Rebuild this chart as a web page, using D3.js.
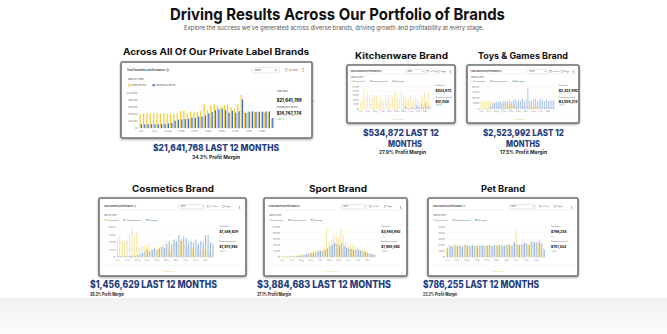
<!DOCTYPE html>
<html><head><meta charset="utf-8">
<script src="https://cdn.jsdelivr.net/npm/d3@7"></script>
<style>html,body{margin:0;padding:0;background:#fff;overflow:hidden}svg{display:block;font-family:Inter,"Open Sans",sans-serif}</style>
</head><body><script>
// ---------- DATA ----------
const weekTickLabels = ["3 Jul","31 Jul","28 Aug","25 Sep","23 Oct","20 Nov","18 Dec","15 Jan","12 Feb","11 Mar"];

const allCurrent = [410000,420000,425000,425000,420000,415000,420000,415000,410000,405000,410000,420000,490000,510000,420000,470000,460000,470000,490000,700000,520000,660000,690000,640000,610000,660000,680000,590000,560000,700000,950000,480000,480000,470000,460000,470000,470000,450000,460000,280000];
const allComparison = [110000,110000,110000,110000,105000,110000,120000,120000,140000,150000,210000,240000,250000,260000,270000,300000,290000,330000,330000,360000,420000,460000,520000,540000,560000,520000,440000,500000,440000,480000,820000,430000,470000,480000,460000,470000,470000,480000,480000,290000];
const allTicks = [0,200000,400000,600000,800000,1000000];

const kitchenCurrent = [7500,11200,22500,12500,20000,13700,10000,17500,12500,15000,7500,13700,11200,8700,15000,12500,16200,7500,12500,18700,17500,10000,11200,20000,13700,15000,8700,11200,15000,7500,10000,12500,11200,8700,15000,13700,18700,10000,20000,7500];
const kitchenComparison = [0,0,0,0,0,0,0,0,0,0,0,0,0,0,0,0,0,0,0,0,0,0,0,500,1000,3500,800,600,1500,2500,1200,4000,3000,1800,6000,2500,7500,3000,4000,1500];
const kitchenTicks = [0,5000,10000,15000,20000,25000];

const toysCurrent = [78000,80000,74000,76000,72000,70000,74000,60000,52000,48000,50000,46000,44000,48000,42000,40000,44000,38000,36000,40000,34000,30000,32000,28000,30000,26000,24000,26000,22000,20000,24000,20000,18000,22000,20000,18000,16000,20000,18000,15000];
const toysComparison = [5000,6000,8000,6000,10000,30000,50000,60000,65000,70000,72000,60000,78000,70000,75000,80000,68000,82000,90000,72000,85000,78000,95000,70000,82000,190000,80000,75000,88000,92000,70000,85000,95000,78000,72000,88000,70000,80000,76000,82000];
const toysTicks = [0,50000,100000,150000,200000];

const cosmeticsCurrent = [66000,72000,58000,52000,60000,80000,98000,70000,85000,35000,40000,42000,38000,45000,28000,30000,25000,35000,40000,45000,55000,35000,20000,60000,50000,45000,55000,55000,40000,35000,25000,30000,30000,35000,20000,25000,30000,20000,20000,15000];
const cosmeticsComparison = [5000,5000,4000,5000,4000,5000,5000,6000,8000,10000,15000,20000,25000,20000,25000,30000,25000,30000,35000,30000,45000,55000,45000,60000,55000,75000,60000,70000,65000,50000,55000,50000,60000,45000,55000,50000,75000,75000,50000,45000];
const cosmeticsTicks = [0,25000,50000,75000,100000];

const sportCurrent = [12500,12500,10000,12500,15000,12500,17500,20000,25000,30000,35000,40000,45000,50000,55000,62500,70000,75000,87500,242500,137500,150000,187500,180000,162500,242500,187500,137500,100000,95000,100000,90000,87500,82500,75000,62500,50000,37500,30000,25000];
const sportComparison = [5000,5000,5000,7500,7500,7500,10000,12500,15000,20000,25000,30000,37500,35000,42500,50000,55000,55000,62500,75000,95000,105000,125000,112500,100000,120000,95000,80000,75000,70000,65000,62500,60000,55000,50000,45000,37500,30000,25000,20000];
const sportTicks = [0,50000,100000,150000,200000,250000];

const petCurrent = [18000,21000,20000,22000,20000,21000,19000,22500,21500,20000,21000,20000,19000,20000,21000,19000,20000,20500,19500,21000,20000,21500,20500,20000,21000,22000,20000,27500,47500,20000,21000,22500,24000,22000,25000,24000,25000,23000,22500,15000];
const petComparison = [15000,19000,18000,20000,19000,20000,18000,21000,20000,19000,20000,19000,18500,19000,20000,18500,19500,20000,19000,20500,19500,21000,20000,19500,20500,21000,20000,25000,22500,21000,22000,25000,23000,21000,27500,26000,25000,27500,24000,12500];
const petTicks = [0,10000,20000,30000,40000,50000];

// ---------- SETUP ----------
const svg = d3.select("body").append("svg").attr("width",667).attr("height",334);
const defs = svg.append("defs");
const sh = defs.append("filter").attr("id","sh").attr("x","-10%").attr("y","-10%").attr("width","120%").attr("height","135%");
sh.append("feDropShadow").attr("dx",0).attr("dy",1).attr("stdDeviation",1.1).attr("flood-color","#000").attr("flood-opacity",0.35);
const gr = defs.append("linearGradient").attr("id","bg").attr("x1",0).attr("y1",0).attr("x2",0).attr("y2",1);
gr.append("stop").attr("offset","0%").attr("stop-color","#f1f1f1");
gr.append("stop").attr("offset","100%").attr("stop-color","#fbfbfb");
svg.append("rect").attr("x",0).attr("y",298).attr("width",667).attr("height",36).attr("fill","url(#bg)");

function T(g,x,y,s,o){
  const t = g.append("text").attr("x",x).attr("y",y).text(s)
    .attr("font-size",o.size).attr("font-weight",o.weight||400)
    .attr("fill",o.fill||"#222").attr("text-anchor",o.anchor||"start");
  if(o.len) t.attr("textLength",o.len).attr("lengthAdjust","spacingAndGlyphs");
  if(o.family) t.attr("font-family",o.family);
  return t;
}
const fmt = d3.format("$,");
const NAVY = "#1f3c7d";

function drawCard(c){
  const {x,y,w,h,main} = c;
  const g = svg.append("g").attr("transform",`translate(${x},${y})`);
  g.append("rect").attr("width",w).attr("height",h).attr("rx",1.5).attr("fill","#fff")
    .attr("stroke","#6e6e6e").attr("stroke-width",1.6).attr("filter","url(#sh)");
  const L = main
    ? {hdr:.105,div:.15,sbw:.225,leg:.305,top:.41,bot:.87,xl:.925,px0:.095,px1:.80,sx:.815,st:[.39,.51,.51,.59,.675,.735],dd:[.686,.83],ck:[.86,.93]}
    : {hdr:.11,div:.155,sbw:.215,leg:.28,top:.38,bot:.76,xl:.81,px0:.12,px1:.78,sx:.82,st:[.37,.44,.48,.56,.63,.675],dd:[.54,.72],ck:[.74,.84],foot:.935,div2:.865};
  const fs = main ? 2.7 : 2.1;
  const cy = c.yellow, cb = c.blue;
  T(g, w*.03, h*L.hdr+fs*.4, "Total business performance ⓘ", {size:fs*1.05, weight:600, fill:"#333"});
  g.append("rect").attr("x",w*L.dd[0]).attr("y",h*L.hdr-fs*1.0).attr("width",w*(L.dd[1]-L.dd[0])).attr("height",fs*2.1)
    .attr("rx",fs).attr("fill","#fff").attr("stroke","#c8c8c8").attr("stroke-width",0.4);
  T(g, w*L.dd[0]+fs, h*L.hdr+fs*.4, "Week", {size:fs*.9, fill:"#555"});
  T(g, w*L.dd[1]-fs*.8, h*L.hdr+fs*.4, "▾", {size:fs, fill:"#333", anchor:"end"});
  [["vs. Prior",L.ck[0]],["Target",L.ck[1]]].forEach(([s,p])=>{
    if(main && s==="Target") return;
    g.append("rect").attr("x",w*p).attr("y",h*L.hdr-fs*.45).attr("width",fs*.9).attr("height",fs*.9).attr("fill","none").attr("stroke","#777").attr("stroke-width",0.3);
    T(g, w*p+fs*1.3, h*L.hdr+fs*.4, s, {size:fs*.85, fill:"#444"});
  });
  T(g, w*.955, h*L.hdr+fs*.45, "⋮", {size:fs*1.3, fill:"#444", anchor:"middle", weight:700});
  if(!main) g.append("line").attr("x1",w*.02).attr("x2",w*.98).attr("y1",h*L.div).attr("y2",h*L.div).attr("stroke","#e4e4e4").attr("stroke-width",0.4);
  T(g, w*.035, h*L.sbw+fs*.4, "Sales by week", {size:fs*.9, fill:"#555"});
  const items = [["Current period",cy],["Comparison period",cb]];
  if(!main) items.push(["Sales target","#5cc6c9"]);
  let lx = w*.035;
  items.forEach(([s,col])=>{
    g.append("rect").attr("x",lx).attr("y",h*L.leg-fs*.4).attr("width",fs*.8).attr("height",fs*.8).attr("fill",col);
    T(g, lx+fs*1.1, h*L.leg+fs*.35, s, {size:fs*.8, fill:"#555"});
    lx += fs*(s.length*0.5+2.2);
  });
  const n = c.cur.length;
  const xs = d3.scaleBand().domain(d3.range(n)).range([w*L.px0,w*L.px1]).paddingInner(0.22).paddingOuter(0.1);
  const xi = d3.scaleBand().domain(["cur","cmp"]).range([0,xs.bandwidth()]).padding(0.04);
  const ys = d3.scaleLinear().domain([0,d3.max(c.ticks)]).range([h*L.bot,h*L.top]);
  c.ticks.forEach(t=>{
    g.append("line").attr("x1",w*L.px0).attr("x2",w*L.px1).attr("y1",ys(t)).attr("y2",ys(t)).attr("stroke","#efefef").attr("stroke-width",0.3);
    T(g, w*L.px0-fs*.6, ys(t)+fs*.3, fmt(t), {size:fs*.75, fill:"#777", anchor:"end"});
  });
  g.append("g").selectAll("rect").data(c.cur).join("rect")
    .attr("x",(d,i)=>xs(i)+xi("cur")).attr("width",xi.bandwidth())
    .attr("y",d=>ys(d)).attr("height",d=>ys(0)-ys(d)).attr("fill",cy);
  g.append("g").selectAll("rect").data(c.cmp).join("rect")
    .attr("x",(d,i)=>xs(i)+xi("cmp")).attr("width",xi.bandwidth())
    .attr("y",d=>ys(d)).attr("height",d=>ys(0)-ys(d)).attr("fill",cb);
  weekTickLabels.forEach((s,k)=>{
    const i = k*4; if(i>=n) return;
    T(g, xs(i)+xs.bandwidth()/2, h*L.xl, s, {size:fs*.75, fill:"#777", anchor:"middle"});
  });
  const sx = w*L.sx;
  T(g, sx, h*L.st[0], "Total sales", {size:fs*.85, fill:"#555"});
  T(g, sx, h*L.st[1]+fs*.5, c.total, {size:fs*1.55, weight:800, fill:"#222"});
  if(!main) T(g, sx, h*L.st[2]+fs*1.1, "↑ 1.1", {size:fs*.7, fill:"#888"});
  if(main) T(g, sx+fs*12.5, h*L.st[1]+fs*.4, "↑ 1.0", {size:fs*.7, fill:"#888"});
  T(g, sx, h*L.st[3]+fs*.3, "Comparison period", {size:fs*.85, fill:"#555"});
  T(g, sx, h*L.st[4]+fs*.6, c.comp, {size:fs*1.55, weight:800, fill:"#222"});
  T(g, sx, h*L.st[5]+fs*.7, c.change, {size:fs*.75, fill:c.changeColor||"#2fa84f"});
  if(!main){
    g.append("line").attr("x1",w*.02).attr("x2",w*.98).attr("y1",h*L.div2).attr("y2",h*L.div2).attr("stroke","#eeeeee").attr("stroke-width",0.4);
    T(g, w*.47, h*L.foot+fs*.3, "View full report", {size:fs*.85, fill:"#e9c84c", anchor:"middle"});
  }
}

const Y1="#f7cd2e", B1="#3a6fe3", Y2="#f6df8f", B2="#8eaee0";

// ---------- PAGE TEXT ----------
T(svg, 337.5, 19.5, "Driving Results Across Our Portfolio of Brands", {size:16.5, weight:700, fill:"#111", anchor:"middle", len:335});
T(svg, 334, 29.5, "Explore the success we've generated across diverse brands, driving growth and profitability at every stage.", {size:5.8, fill:"#555", anchor:"middle", len:300});

const headings = [
  ["Across All Of Our Private Label Brands", 216, 55, 186],
  ["Kitchenware Brand", 401.5, 59, 93],
  ["Toys & Games Brand", 523, 59, 90],
  ["Cosmetics Brand", 173, 192.3, 82],
  ["Sport Brand", 338, 192.3, 58],
  ["Pet Brand", 503, 192.3, 44]
];
headings.forEach(([s,x,y,l])=>T(svg,x,y,s,{size:9,weight:700,fill:"#111",anchor:"middle",len:l}));

// ---------- CARDS ----------
drawCard({x:121,y:62,w:191,h:76,main:true,cur:allCurrent,cmp:allComparison,ticks:allTicks,yellow:Y1,blue:B1,total:"$21,641,768",comp:"$14,747,774",change:"+46.7%"});
drawCard({x:347,y:65,w:108,h:58,cur:kitchenCurrent,cmp:kitchenComparison,ticks:kitchenTicks,yellow:Y2,blue:B2,total:"$534,872",comp:"$51,048",change:"+947.8%"});
drawCard({x:467,y:65,w:112,h:58,cur:toysCurrent,cmp:toysComparison,ticks:toysTicks,yellow:Y2,blue:B2,total:"$2,523,992",comp:"$3,058,214",change:"-17.5%",changeColor:"#d9413a"});
drawCard({x:99,y:198,w:147,h:78,cur:cosmeticsCurrent,cmp:cosmeticsComparison,ticks:cosmeticsTicks,yellow:Y2,blue:B2,total:"$1,456,629",comp:"$1,075,862",change:"+35.4%"});
drawCard({x:264,y:198,w:143,h:78,cur:sportCurrent,cmp:sportComparison,ticks:sportTicks,yellow:Y2,blue:"#88a4cf",total:"$3,884,683",comp:"$1,808,562",change:"+114.8%"});
drawCard({x:428,y:198,w:150,h:78,cur:petCurrent,cmp:petComparison,ticks:petTicks,yellow:Y2,blue:B2,total:"$786,255",comp:"$751,534",change:"+4.6%"});

// ---------- RESULT TEXT ----------
const results = [
  ["$21,641,768 LAST 12 MONTHS", 216, 150.7, 126, "middle", 9.5],
  ["$534,872 LAST 12", 401, 135.5, 76, "middle", 9.5],
  ["MONTHS", 405, 147.3, 34, "middle", 9.5],
  ["$2,523,992 LAST 12", 523.5, 135.5, 81, "middle", 9.5],
  ["MONTHS", 523, 147.3, 34, "middle", 9.5],
  ["$1,456,629 LAST 12 MONTHS", 90, 288.3, 127, "start", 10],
  ["$3,884,683 LAST 12 MONTHS", 257, 288.3, 134, "start", 10],
  ["$786,255 LAST 12 MONTHS", 423, 288.3, 116, "start", 10]
];
results.forEach(([s,x,y,l,a,fz])=>T(svg,x,y,s,{size:fz,weight:800,fill:NAVY,anchor:a,len:l}));
const margins = [
  ["34.3% Profit Margin", 216, 158.5, 48, "middle"],
  ["27.9% Profit Margin", 402.5, 154.2, 47, "middle"],
  ["17.5% Profit Margin", 523.5, 154.2, 47, "middle"],
  ["36.3% Profit Margin", 90, 295.5, 34, "start"],
  ["37.1% Profit Margin", 257, 295.5, 34, "start"],
  ["23.2% Profit Margin", 423, 295.5, 34, "start"]
];
margins.forEach(([s,x,y,l,a])=>T(svg,x,y,s,{size:5,weight:700,fill:"#222",anchor:a,len:l}));
</script></body></html>
